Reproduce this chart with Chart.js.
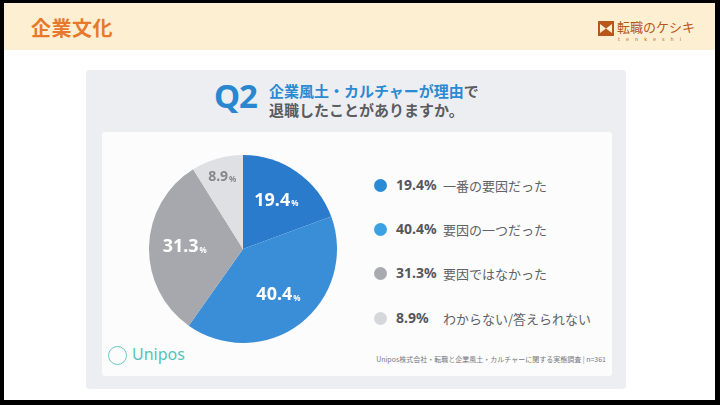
<!DOCTYPE html>
<html>
<head>
<meta charset="utf-8">
<script src="https://cdn.jsdelivr.net/npm/chart.js@4"></script>
<style>
  html, body { margin: 0; padding: 0; }
  body { width: 720px; height: 405px; background: #000; position: relative; overflow: hidden;
         font-family: "Noto Sans CJK JP", "Noto Sans", sans-serif; }
  #page { position: absolute; left: 4px; top: 3px; width: 711px; height: 397px; background: #fff; }
  #header { position: absolute; left: 0; top: 0; width: 711px; height: 47px; background: #fdf0d2; }
  #header h1 { position: absolute; left: 27px; top: 10px; margin: 0; font-size: 20px; font-weight: bold;
               color: #e8792c; letter-spacing: 0.5px; }
  #logo { position: absolute; left: 594px; top: 16px; width: 110px; height: 26px; }
  #logo .name { position: absolute; left: 19px; top: -2px; font-size: 13px; color: #b8561b; font-family: "Noto Sans CJK JP"; }
  #logo .sub { position: absolute; left: 20px; top: 17px; font-size: 5px; color: #b8561b; letter-spacing: 6px; font-family: "DejaVu Sans"; }
  #panel { position: absolute; left: 82px; top: 67px; width: 540px; height: 319px; background: #eceef2; border-radius: 4px; }
  #card { position: absolute; left: 16px; top: 62px; width: 510px; height: 244px; background: #fcfcfd; border-radius: 3px; }
  #q { position: absolute; left: 128px; top: 3px; font-size: 33px; font-weight: bold; color: #2a87cf;
       font-family: "Noto Sans", sans-serif; letter-spacing: -1px; }
  #qtext { position: absolute; left: 183px; top: 11px; font-size: 15px; font-weight: bold; line-height: 19px; color: #5a5c60; }
  #qtext .blue { color: #2a8ad2; }
  #pie { position: absolute; left: 47px; top: 23px; }
  #legend { position: absolute; left: 272px; top: 44px; }
  .row { position: absolute; left: 0; height: 20px; white-space: nowrap; }
  .dot { position: absolute; left: 0; top: 3px; width: 13px; height: 13px; border-radius: 50%; }
  .num { position: absolute; left: 22px; top: -1px; font-size: 14px; font-weight: bold; color: #55575c; font-family: "Noto Sans", sans-serif; }
  .lab { position: absolute; left: 69px; top: 0px; font-size: 13px; color: #606266; }
  #unipos { position: absolute; left: 6px; top: 212px; color: #55c3bb; font-size: 16px; font-family: "Noto Sans", sans-serif; }
  #unipos .circ { position: absolute; left: 0; top: 2px; width: 17px; height: 17px; border: 1.6px solid #6acbc0; border-radius: 50%; }
  #unipos .word { position: absolute; left: 24px; top: -1px; }
  #source { position: absolute; right: 6px; top: 222px; font-size: 7px; color: #777a80; white-space: nowrap; }
</style>
</head>
<body>
<div id="page">
  <div id="header">
    <h1>企業文化</h1>
    <div id="logo">
      <svg width="16" height="15" viewBox="0 0 16 15" style="position:absolute;left:0;top:2px">
        <rect width="16" height="15" fill="#b8561b"/>
        <path d="M2 3 L8 7.5 L14 3 L14 12 L8 7.5 L2 12 Z" fill="#fdf0d2"/>
      </svg>
      <div class="name">転職のケシキ</div>
      <div class="sub">tenkeshi</div>
    </div>
  </div>
  <div id="panel">
    <div id="q">Q2</div>
    <div id="qtext"><span class="blue">企業風土・カルチャーが理由</span>で<br>退職したことがありますか。</div>
    <div id="card">
      <canvas id="pie" width="188" height="188"></canvas>
      <div id="legend"></div>
      <div id="unipos"><div class="circ"></div><div class="word">Unipos</div></div>
      <div id="source">Unipos株式会社・転職と企業風土・カルチャーに関する実態調査 | n=361</div>
    </div>
  </div>
</div>
<script>
const categories = ["一番の要因だった", "要因の一つだった", "要因ではなかった", "わからない/答えられない"];
const percentages = [19.4, 40.4, 31.3, 8.9];
const sliceColors = ["#2a7bcc", "#3a8dd7", "#a6a8ad", "#dfe0e3"];
const dotColors = ["#2a8ad6", "#3aa2e2", "#a9aaaf", "#d6d7db"];
const valueColors = ["#ffffff", "#ffffff", "#ffffff", "#85878c"];

// legend rows (html, built from the same arrays)
var legend = document.getElementById("legend");
var rowY = [0, 44, 88, 133];
for (var i = 0; i < categories.length; i++) {
  var row = document.createElement("div");
  row.className = "row";
  row.style.top = rowY[i] + "px";
  row.innerHTML = '<div class="dot" style="background:' + dotColors[i] + '"></div>' +
    '<div class="num">' + percentages[i].toFixed(1) + '%</div>' +
    '<div class="lab">' + categories[i] + '</div>';
  legend.appendChild(row);
}

// percent labels inside the slices
const sliceLabels = {
  id: "sliceLabels",
  afterDatasetsDraw(chart) {
    var ctx = chart.ctx;
    var meta = chart.getDatasetMeta(0);
    meta.data.forEach(function(arc, i) {
      var mid = (arc.startAngle + arc.endAngle) / 2;
      var r = arc.outerRadius * (percentages[i] < 10 ? 0.8 : 0.62);
      var x = arc.x + Math.cos(mid) * r;
      var y = arc.y + Math.sin(mid) * r;
      var big = percentages[i] < 10 ? "bold 14px 'Noto Sans'" : "bold 18px 'Noto Sans'";
      var num = percentages[i].toFixed(1);
      ctx.save();
      ctx.fillStyle = valueColors[i];
      ctx.textBaseline = "middle";
      ctx.font = big;
      var w1 = ctx.measureText(num).width;
      ctx.font = "bold 8px 'Noto Sans'";
      var w2 = ctx.measureText("%").width;
      var left = x - (w1 + w2 + 1) / 2;
      ctx.font = big;
      ctx.textAlign = "left";
      ctx.fillText(num, left, y);
      ctx.font = "bold 8px 'Noto Sans'";
      ctx.fillText("%", left + w1 + 1, y + 3);
      ctx.restore();
    });
  }
};

new Chart(document.getElementById("pie").getContext("2d"), {
  type: "pie",
  data: {
    labels: categories,
    datasets: [{
      data: percentages,
      backgroundColor: sliceColors,
      borderWidth: 0
    }]
  },
  options: {
    responsive: false,
    animation: false,
    layout: { padding: 0 },
    plugins: {
      legend: { display: false },
      tooltip: { enabled: false }
    }
  },
  plugins: [sliceLabels]
});
</script>
</body>
</html>
